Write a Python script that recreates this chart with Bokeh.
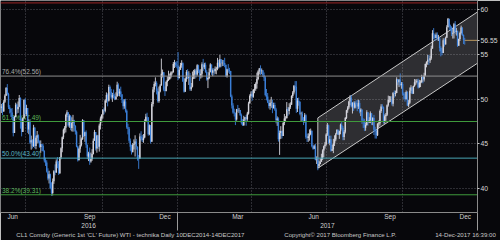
import pandas as pd
from bokeh.plotting import figure
from bokeh.models import LinearAxis, FixedTicker, Range1d, Grid, ColumnDataSource
from bokeh.core.properties import value
from bokeh.embed import file_html
from bokeh.resources import INLINE

# ---------------- data (CL1 daily prices, read/estimated) ----------------
holidays = ["2016-07-04", "2016-09-05", "2016-11-24", "2016-12-26", "2017-01-02",
            "2017-01-16", "2017-02-20", "2017-04-14", "2017-05-29", "2017-07-04",
            "2017-09-04", "2017-11-23", "2017-12-25"]
prior_close = 49.10

close_2016_06 = [49.01, 49.17, 48.62, 49.69, 50.36, 51.23, 50.56, 49.07, 48.88, 48.49, 48.01,
                 46.21, 47.98, 49.37, 48.85, 49.13, 50.11, 47.64, 46.33, 47.85, 49.88, 48.33]
high_2016_06 = [49.80, 49.45, 49.56, 49.88, 50.53, 51.34, 51.67, 50.70, 49.32, 48.96, 48.99,
                48.02, 48.13, 49.59, 49.48, 49.72, 50.45, 50.19, 47.82, 47.95, 49.98, 50.09]
low_2016_06 = [48.60, 48.44, 48.20, 48.58, 49.56, 50.42, 50.40, 48.88, 48.39, 48.01, 47.79,
               45.83, 46.49, 48.20, 48.34, 48.45, 49.09, 46.69, 45.83, 46.45, 48.00, 48.12]

close_2016_07 = [48.99, 46.60, 47.43, 45.14, 45.41, 44.76, 46.80, 44.75, 45.68, 45.95, 45.24,
                 44.65, 44.94, 44.75, 44.19, 43.13, 42.92, 41.92, 41.14, 41.60]
high_2016_07 = [49.36, 49.00, 47.75, 47.69, 45.91, 45.51, 47.12, 46.89, 45.90, 46.43, 46.05,
                45.38, 45.38, 45.00, 44.95, 44.28, 43.45, 43.16, 42.27, 41.99]
low_2016_07 = [48.09, 46.22, 46.07, 44.97, 44.35, 44.48, 44.64, 44.50, 44.39, 45.06, 45.04,
               44.56, 44.00, 44.20, 44.12, 42.92, 42.53, 41.79, 40.92, 40.57]

close_2016_08 = [40.06, 39.51, 40.83, 41.93, 41.80, 43.02, 42.77, 41.71, 43.49, 44.49, 45.74,
                 46.58, 46.79, 48.22, 48.52, 47.05, 48.10, 46.77, 47.33, 47.64, 46.98, 46.35, 44.70]
high_2016_08 = [41.67, 40.70, 41.13, 42.06, 42.70, 43.26, 43.52, 43.07, 43.53, 44.61, 45.82,
                46.70, 46.98, 48.36, 48.75, 48.46, 48.29, 48.20, 47.96, 48.23, 47.68, 47.08, 46.49]
low_2016_08 = [39.93, 39.19, 39.23, 40.53, 41.49, 41.76, 42.27, 41.52, 41.64, 43.28, 44.06,
               45.52, 46.15, 46.27, 47.97, 46.89, 46.79, 46.51, 46.39, 46.35, 46.40, 46.03, 44.61]

close_2016_09 = [43.16, 44.44, 44.83, 45.50, 47.62, 45.88, 46.29, 44.90, 43.58, 43.91, 43.03,
                 43.30, 43.85, 45.34, 46.32, 44.48, 45.93, 44.67, 47.05, 47.83, 48.24]
high_2016_09 = [44.79, 44.56, 46.00, 45.70, 47.75, 47.31, 46.36, 46.50, 44.91, 44.11, 44.58,
                44.02, 44.40, 45.60, 46.55, 45.74, 46.01, 45.95, 47.25, 48.05, 48.30]
low_2016_09 = [43.02, 43.23, 44.00, 44.70, 45.44, 45.75, 45.22, 44.55, 43.28, 43.07, 42.65,
               42.89, 43.10, 43.80, 45.42, 44.25, 44.01, 44.43, 44.13, 46.60, 47.38]

close_2016_10 = [48.81, 48.69, 49.83, 50.44, 49.81, 51.35, 50.79, 50.18, 50.44, 50.35, 49.94,
                 50.29, 51.60, 50.63, 50.85, 50.52, 49.96, 49.18, 49.72, 48.70, 46.86]
high_2016_10 = [48.87, 49.05, 49.97, 50.74, 50.63, 51.60, 51.50, 51.13, 50.69, 51.06, 50.60,
                50.75, 51.93, 51.75, 51.15, 51.38, 50.49, 49.86, 49.97, 50.03, 48.84]
low_2016_10 = [47.82, 48.29, 48.51, 49.59, 49.18, 49.71, 50.40, 49.98, 49.68, 50.06, 49.87,
               50.05, 50.49, 50.34, 50.30, 50.23, 49.55, 48.83, 48.91, 48.49, 46.68]

close_2016_11 = [46.67, 45.34, 44.66, 44.07, 44.89, 44.98, 45.27, 44.66, 43.41, 43.32, 45.81,
                 45.57, 45.42, 45.69, 47.49, 48.03, 47.96, 46.06, 47.08, 45.23, 49.44]
high_2016_11 = [47.24, 46.88, 45.59, 44.90, 45.08, 45.49, 45.95, 45.55, 44.71, 43.76, 46.16,
                46.40, 45.99, 46.09, 47.74, 48.35, 48.47, 47.80, 47.16, 47.09, 49.67]
low_2016_11 = [46.05, 45.10, 44.22, 43.80, 44.25, 44.37, 43.58, 44.35, 43.12, 42.20, 43.32,
               45.35, 45.20, 45.11, 45.61, 47.45, 47.42, 45.90, 45.96, 45.02, 45.32]

close_2016_12 = [51.06, 51.68, 51.79, 50.93, 49.77, 50.84, 51.50, 52.83, 52.98, 51.04, 50.90,
                 51.90, 52.12, 52.23, 52.49, 52.95, 53.02, 53.90, 54.06, 53.77, 53.72]
high_2016_12 = [51.34, 51.96, 52.42, 51.98, 51.18, 51.39, 51.66, 54.51, 53.29, 52.95, 51.40,
                52.04, 52.53, 53.16, 52.84, 53.09, 53.11, 54.13, 54.37, 54.15, 54.24]
low_2016_12 = [49.16, 50.75, 51.41, 50.51, 49.60, 49.59, 50.74, 52.30, 52.41, 50.87, 50.34,
               50.85, 51.42, 52.01, 52.14, 52.31, 52.73, 52.93, 53.46, 53.56, 53.44]

close_2017_01 = [52.33, 53.26, 53.76, 53.99, 51.96, 50.82, 52.25, 53.01, 52.37, 52.48, 51.08,
                 51.37, 52.42, 52.75, 53.18, 52.75, 53.78, 53.17, 52.63, 52.81]
high_2017_01 = [55.24, 53.60, 54.04, 54.33, 54.09, 52.35, 52.40, 53.23, 53.33, 53.10, 52.89,
                51.79, 53.07, 53.25, 53.36, 53.40, 53.89, 53.83, 53.30, 53.33]
low_2017_01 = [52.11, 52.44, 53.26, 53.49, 51.91, 50.71, 50.81, 51.93, 52.21, 51.57, 50.91,
               50.91, 51.29, 52.23, 52.25, 52.38, 52.60, 52.91, 52.02, 52.28]

close_2017_02 = [53.88, 53.54, 53.83, 53.01, 52.17, 52.34, 53.00, 53.86, 52.93, 53.20, 53.11,
                 53.36, 53.40, 54.06, 53.59, 54.45, 53.99, 54.05, 54.01]
high_2017_02 = [54.10, 54.48, 54.04, 54.07, 53.22, 52.44, 53.42, 54.00, 53.55, 53.42, 53.46,
                53.64, 53.59, 54.59, 54.38, 54.94, 54.45, 54.37, 54.35]
low_2017_02 = [52.40, 53.13, 53.33, 52.93, 52.05, 51.22, 52.22, 53.09, 52.70, 52.55, 52.63,
               52.81, 52.76, 53.21, 53.40, 53.51, 53.55, 53.67, 53.69]

close_2017_03 = [53.83, 52.61, 53.33, 53.20, 53.14, 50.28, 49.28, 48.49, 48.40, 47.72, 48.86,
                 48.75, 48.78, 48.22, 47.34, 47.04, 47.70, 47.97, 47.73, 48.37, 49.51, 50.35, 50.60]
high_2017_03 = [54.60, 53.80, 53.39, 53.90, 53.48, 53.10, 50.49, 49.53, 48.92, 48.50, 48.90,
                49.34, 49.00, 48.78, 48.38, 47.75, 48.13, 48.00, 48.23, 48.57, 49.70, 50.52, 50.85]
low_2017_03 = [53.55, 52.45, 52.39, 52.94, 52.80, 50.20, 48.94, 48.36, 48.05, 47.09, 47.58,
               48.52, 48.43, 48.10, 47.15, 47.01, 47.18, 47.48, 47.02, 47.57, 48.26, 49.51, 50.16]

close_2017_04 = [50.24, 51.03, 51.15, 51.70, 52.24, 53.08, 53.40, 53.11, 53.18, 52.65, 52.41,
                 50.44, 50.27, 49.62, 49.23, 49.56, 49.62, 48.97, 49.33]
high_2017_04 = [50.92, 51.11, 51.67, 51.87, 52.94, 53.21, 53.47, 53.76, 53.41, 53.24, 52.96,
                52.56, 51.12, 50.67, 49.89, 49.94, 50.24, 49.94, 49.59]
low_2017_04 = [49.81, 50.14, 50.65, 50.92, 51.16, 52.10, 52.74, 52.69, 52.77, 52.46, 52.01,
               50.29, 49.85, 49.54, 48.95, 48.81, 49.02, 48.42, 48.95]

close_2017_05 = [48.84, 47.66, 47.82, 45.52, 46.22, 46.43, 45.88, 47.33, 47.83, 47.84, 48.85,
                 48.66, 49.07, 49.35, 50.33, 50.73, 51.47, 51.36, 48.90, 49.80, 49.66, 48.32]
high_2017_05 = [49.59, 49.02, 48.06, 47.96, 46.48, 46.97, 46.48, 47.53, 48.33, 48.08, 49.66,
                49.09, 49.53, 49.63, 50.42, 50.89, 51.55, 52.00, 52.00, 50.11, 50.16, 49.76]
low_2017_05 = [48.68, 47.28, 47.00, 45.25, 43.76, 45.55, 45.60, 45.93, 47.08, 47.44, 48.03,
               48.12, 48.28, 48.89, 49.40, 50.11, 50.51, 50.93, 48.45, 48.55, 49.25, 48.18]

close_2017_06 = [48.36, 47.66, 47.40, 48.19, 45.72, 45.64, 45.83, 46.08, 46.46, 44.73, 44.46,
                 44.74, 43.20, 43.23, 42.53, 42.74, 43.01, 43.38, 44.24, 44.74, 44.93, 46.04]
high_2017_06 = [48.58, 48.60, 47.98, 48.43, 48.30, 46.12, 46.18, 46.61, 46.70, 46.47, 44.88,
                44.91, 44.99, 43.60, 43.49, 43.09, 43.34, 43.89, 44.39, 44.80, 45.21, 46.17]
low_2017_06 = [47.47, 47.49, 47.09, 47.40, 45.56, 45.20, 45.22, 45.35, 45.97, 44.60, 44.33,
               44.40, 43.15, 42.75, 42.05, 42.28, 42.71, 43.07, 43.20, 43.52, 44.46, 44.81]

close_2017_07 = [47.07, 45.13, 45.52, 44.23, 44.40, 45.04, 45.49, 46.08, 46.54, 46.02, 46.40,
                 47.12, 46.79, 45.77, 46.34, 47.89, 48.75, 49.04, 49.71, 50.17]
high_2017_07 = [47.32, 47.15, 45.90, 45.91, 44.87, 45.56, 45.95, 46.22, 46.64, 46.61, 46.47,
                47.26, 47.42, 46.99, 46.54, 47.99, 48.80, 49.21, 49.81, 50.43]
low_2017_07 = [45.88, 45.00, 44.83, 44.11, 44.21, 43.96, 44.76, 45.29, 46.06, 46.01, 45.55,
               46.06, 46.60, 45.40, 45.41, 46.15, 47.76, 48.46, 48.88, 49.32]

close_2017_08 = [49.16, 49.59, 49.03, 49.58, 49.39, 49.17, 49.56, 48.59, 48.82, 47.59, 47.55,
                 46.78, 47.09, 48.51, 47.37, 47.64, 48.41, 47.43, 47.87, 46.57, 46.44, 45.96, 47.23]
high_2017_08 = [50.43, 49.64, 49.73, 49.75, 49.84, 49.89, 49.92, 49.85, 48.98, 48.75, 47.84,
                47.79, 47.38, 48.75, 48.51, 47.97, 48.62, 48.39, 47.99, 48.23, 46.90, 46.65, 47.30]
low_2017_08 = [49.05, 48.38, 48.67, 48.93, 48.96, 48.64, 48.89, 48.40, 48.09, 47.23, 46.77,
               46.42, 46.46, 47.02, 47.03, 47.33, 47.31, 47.09, 47.08, 45.98, 45.59, 45.58, 45.87]

close_2017_09 = [47.29, 48.66, 49.16, 49.09, 47.48, 48.07, 48.23, 49.30, 49.89, 49.89, 49.91,
                 49.48, 50.69, 50.55, 50.66, 52.22, 51.88, 52.14, 51.56, 51.67]
high_2017_09 = [47.61, 48.83, 49.42, 49.42, 49.17, 48.28, 48.44, 49.40, 50.38, 50.33, 50.31,
                50.30, 50.75, 50.96, 50.94, 52.43, 52.23, 52.22, 52.86, 51.89]
low_2017_09 = [46.80, 47.04, 48.45, 48.90, 47.26, 47.24, 47.58, 48.10, 49.15, 49.60, 49.66,
               49.27, 49.18, 50.14, 50.30, 50.74, 51.55, 51.33, 51.42, 51.15]

close_2017_10 = [50.58, 50.42, 49.98, 50.79, 49.29, 49.58, 50.92, 51.30, 50.60, 51.45, 51.87,
                 51.88, 52.04, 51.29, 51.84, 51.90, 52.47, 52.18, 52.64, 53.90, 54.15, 54.38]
high_2017_10 = [51.89, 50.73, 50.77, 50.96, 50.87, 49.88, 51.29, 51.54, 51.30, 51.50, 52.23,
                52.19, 52.24, 52.27, 52.14, 52.09, 52.71, 52.58, 52.93, 53.96, 54.20, 54.93]
low_2017_10 = [50.41, 50.00, 49.71, 50.02, 49.22, 49.08, 49.44, 50.65, 50.55, 50.87, 51.36,
               51.58, 51.74, 51.16, 51.35, 51.33, 51.77, 51.76, 51.95, 52.55, 53.54, 53.82]

close_2017_11 = [54.30, 54.54, 55.64, 57.35, 57.20, 56.81, 57.17, 56.74, 56.76, 55.70, 55.33,
                 55.14, 56.55, 56.09, 56.83, 58.02, 58.95, 58.11, 57.99, 57.30, 57.40]
high_2017_11 = [54.93, 54.84, 55.95, 57.69, 57.92, 57.21, 57.42, 57.44, 57.16, 56.91, 55.90,
                55.75, 56.78, 56.77, 56.97, 58.24, 59.05, 58.89, 58.30, 58.12, 57.95]
low_2017_11 = [53.82, 54.03, 54.38, 55.61, 56.68, 56.48, 56.79, 56.53, 56.48, 55.31, 54.76,
               54.89, 55.34, 55.85, 56.17, 56.84, 58.00, 57.70, 57.62, 57.03, 56.75]

close_2017_12 = [58.36, 57.47, 57.62, 55.96, 56.69, 57.36, 57.99, 57.14, 56.60, 56.55]
high_2017_12 = [58.50, 58.70, 57.95, 57.55, 56.75, 57.53, 58.20, 58.00, 57.21, 56.83]
low_2017_12 = [56.76, 57.23, 57.08, 55.82, 55.93, 56.48, 57.22, 57.04, 56.14, 56.07]

month_keys = ["2016-06", "2016-07", "2016-08", "2016-09", "2016-10", "2016-11", "2016-12",
              "2017-01", "2017-02", "2017-03", "2017-04", "2017-05", "2017-06", "2017-07",
              "2017-08", "2017-09", "2017-10", "2017-11", "2017-12"]
month_closes = [close_2016_06, close_2016_07, close_2016_08, close_2016_09, close_2016_10,
                close_2016_11, close_2016_12, close_2017_01, close_2017_02, close_2017_03,
                close_2017_04, close_2017_05, close_2017_06, close_2017_07, close_2017_08,
                close_2017_09, close_2017_10, close_2017_11, close_2017_12]
month_highs = [high_2016_06, high_2016_07, high_2016_08, high_2016_09, high_2016_10,
               high_2016_11, high_2016_12, high_2017_01, high_2017_02, high_2017_03,
               high_2017_04, high_2017_05, high_2017_06, high_2017_07, high_2017_08,
               high_2017_09, high_2017_10, high_2017_11, high_2017_12]
month_lows = [low_2016_06, low_2016_07, low_2016_08, low_2016_09, low_2016_10,
              low_2016_11, low_2016_12, low_2017_01, low_2017_02, low_2017_03,
              low_2017_04, low_2017_05, low_2017_06, low_2017_07, low_2017_08,
              low_2017_09, low_2017_10, low_2017_11, low_2017_12]

fib_labels = ["76.4%(52.56)", "61.8%(47.49)", "50.0%(43.40)", "38.2%(39.31)"]
fib_levels = [52.56, 47.49, 43.40, 39.31]
fib_colors = ["#8e8e8e", "#3f9a3c", "#4aa6b4", "#3f9a3c"]
fib_text_colors = ["#a8a8a8", "#5cb85a", "#5ab8c6", "#5cb85a"]
top_level = 60.73          # 100% retracement line (red)

channel_dates = ["2017-06-21", "2017-12-31"]
channel_lower = [42.28, 54.00]
channel_upper = [47.89, 59.72]

y_ticks = [40, 45, 50, 55, 60]
month_tick_labels = ["Jun", "Sep", "Dec", "Mar", "Jun", "Sep", "Dec"]
month_tick_months = ["2016-06", "2016-09", "2016-12", "2017-03", "2017-06", "2017-09", "2017-12"]
year_labels = ["2016", "2017"]
grid_months = ["2016-07", "2016-10", "2017-01", "2017-04", "2017-07", "2017-10"]
last_price = 56.55
footer_texts = ["CL1 Comdty (Generic 1st 'CL' Future) WTI - technika  Daily 10DEC2014-14DEC2017",
                "Copyright\u00a9 2017 Bloomberg Finance L.P.",
                "14-Dec-2017 16:39:00"]

FONT = "Liberation Sans"

# ---------------- trading-day positions ----------------
all_days = [d for d in pd.bdate_range("2016-06-01", "2017-12-31")
            if d.strftime("%Y-%m-%d") not in holidays]
day_index = {d.strftime("%Y-%m-%d"): i for i, d in enumerate(all_days)}
month_of = [d.strftime("%Y-%m") for d in all_days]

def month_start(key):
    return month_of.index(key) - 0.5

def month_end(key):
    return len(month_of) - 1 - month_of[::-1].index(key) + 0.5

xs, opens, closes, highs, lows = [], [], [], [], []
prev = prior_close
for key, cv, hv, lv in zip(month_keys, month_closes, month_highs, month_lows):
    idxs = [i for i, m in enumerate(month_of) if m == key]
    for i, c, h, l in zip(idxs, cv, hv, lv):
        xs.append(float(i)); opens.append(prev); closes.append(c)
        highs.append(max(h, prev, c)); lows.append(min(l, prev, c))
        prev = c

colors = ["#d4d4dc" if c >= o else "#3b7fd8" for o, c in zip(opens, closes)]
src = ColumnDataSource(dict(x=xs, o=opens, c=closes, h=highs, l=lows, color=colors))

x_end = month_end("2017-12")
XR = Range1d(0.3, x_end + 0.2)
YR = Range1d(37.33, 61.0)
p = figure(width=500, height=240, x_range=XR, y_range=YR,
           x_axis_location=None, y_axis_location=None, toolbar_location=None,
           output_backend="svg", min_border_left=0, min_border_top=0,
           min_border_right=22, min_border_bottom=27,
           background_fill_color="#07070b", border_fill_color="#07070b",
           outline_line_color=None)
# drop the default (light) grids that figure() creates
p.xgrid.visible = False
p.ygrid.visible = False

px_per_idx = 478 / (XR.end - XR.start)
px_per_unit = 213 / (YR.end - YR.start)

# dotted grids
p.add_layout(Grid(dimension=1, ticker=FixedTicker(ticks=y_ticks),
                  grid_line_color="#55555c", grid_line_dash="1 2"))
p.add_layout(Grid(dimension=0, ticker=FixedTicker(ticks=[month_start(m) for m in grid_months]),
                  grid_line_color="#55555c", grid_line_dash="1 2"))

# channel
cx = [float(day_index[channel_dates[0]]), XR.end]
p.patch([cx[0], cx[1], cx[1], cx[0]],
        [channel_lower[0], channel_lower[1], channel_upper[1], channel_upper[0]],
        fill_color="#ffffff", fill_alpha=0.16, line_color="#c8c8c8", line_width=1)

# fib labels (under candles)
fsrc = ColumnDataSource(dict(x=[XR.start + 1.5 / px_per_idx] * len(fib_levels),
                             y=[v + 1 / px_per_unit for v in fib_levels],
                             t=fib_labels, c=fib_text_colors))
p.text(x="x", y="y", text="t", text_color="c", source=fsrc, text_font_size="6.5px",
       text_font=value(FONT), text_baseline="bottom", text_align="left")

# candles: wicks and bodies
p.segment(x0="x", x1="x", y0="l", y1="h", line_color="color", line_width=0.9, source=src)
p.segment(x0="x", x1="x", y0="o", y1="c", line_color="color", line_width=1.4, source=src)

# fib lines
lv_all = fib_levels + [top_level]
p.segment(x0=[XR.start] * len(lv_all), x1=[XR.end] * len(lv_all),
          y0=lv_all, y1=lv_all, line_color=fib_colors + ["#9b2626"], line_width=1)

# last price line
p.segment(x0=[xs[-1]], x1=[XR.end], y0=[last_price], y1=[last_price],
          line_color="#b8965e", line_width=1)

# right axis (price ticks plus the last-price tag)
right_ticks = list(y_ticks) + [last_price]
right_over = {float(t): str(t) for t in y_ticks}
right_over[last_price] = f"{last_price:.2f}"
ra = LinearAxis(ticker=FixedTicker(ticks=right_ticks), major_label_overrides=right_over,
                major_tick_out=2, major_tick_in=0,
                minor_tick_out=0, minor_tick_in=0, axis_line_color="#8a8a8a",
                major_tick_line_color="#c8c8c8", major_label_standoff=1,
                major_label_text_font_size="6.8px", major_label_text_color="#d8d8d8",
                major_label_text_font=FONT)
p.add_layout(ra, "right")

# month axis
label_pos = [(month_start(m) + month_end(m)) / 2 for m in month_tick_months]
ma = LinearAxis(ticker=FixedTicker(ticks=label_pos),
                major_label_overrides=dict(zip(label_pos, month_tick_labels)),
                major_tick_out=0, major_tick_in=0, minor_tick_out=0, minor_tick_in=0,
                axis_line_color="#8a8a8a",
                major_label_standoff=0, major_label_text_font_size="6.5px",
                major_label_text_color="#d0d0d0", major_label_text_font=FONT)
p.add_layout(ma, "below")

# year axis
sep = month_start("2017-01")
year_pos = [(month_start("2016-06") + sep) / 2, (sep + x_end) / 2]
ya = LinearAxis(ticker=FixedTicker(ticks=year_pos),
                major_label_overrides=dict(zip(year_pos, year_labels)),
                major_tick_out=0, major_tick_in=0, minor_tick_out=0, minor_tick_in=0,
                axis_line_color=None, major_label_standoff=0,
                major_label_text_font_size="6.5px",
                major_label_text_color="#d0d0d0", major_label_text_font=FONT)
p.add_layout(ya, "below")

# footer axis (also carries the year / right-edge separator ticks)
footer_px = [131.0, 340.5, 466.0]
footer_pos = [XR.start + v / px_per_idx for v in footer_px]
fa = LinearAxis(ticker=FixedTicker(ticks=footer_pos, minor_ticks=[sep, x_end - 0.05]),
                major_label_overrides=dict(zip(footer_pos, footer_texts)),
                major_tick_out=0, major_tick_in=0, minor_tick_out=0, minor_tick_in=18,
                axis_line_color=None, minor_tick_line_color="#9a9a9a",
                major_label_standoff=0, major_label_text_font_size="6.1px",
                major_label_text_color="#c8c8c8", major_label_text_font=FONT)
p.add_layout(fa, "below")

open("out.html", "w").write(file_html(p, INLINE))
